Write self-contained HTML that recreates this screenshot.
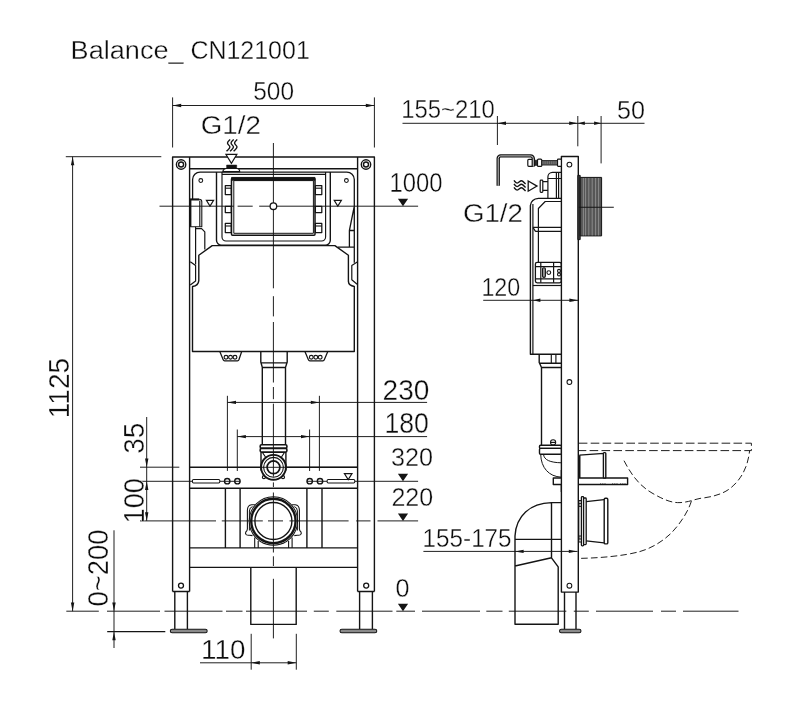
<!DOCTYPE html>
<html lang="en"><head><meta charset="utf-8"><title>Balance_ CN121001</title>
<style>
html,body{margin:0;padding:0;background:#fff;}
body{width:800px;height:712px;overflow:hidden;}
svg{display:block;}
svg *{vector-effect:none;}
.g line,.g path,.g rect,.g circle,.g polyline{stroke:#141414;fill:none;stroke-width:1.4;stroke-linecap:butt;stroke-linejoin:round;}
.g .t{stroke-width:0.95;}
.g .m{stroke-width:1.15;}
.g .k{stroke-width:2;}
.g polygon.f{fill:#141414;stroke:none;}
.g polygon.o{fill:#fff;stroke:#141414;stroke-width:1.15;}
.g .w{fill:#fff;}
.g .gray{fill:#8a8a8a;}
text{font-family:"Liberation Sans",sans-serif;fill:#0c0c0c;stroke:#fff;stroke-width:0.36px;paint-order:fill stroke;}
</style></head><body>
<svg width="800" height="712" viewBox="0 0 800 712">
<rect x="0" y="0" width="800" height="712" fill="#fff"/>
<g class="g" style="opacity:0.999">
<!-- front view: dimension lines -->
<line x1="172.6" y1="97.4" x2="172.6" y2="147.5" class="t"/>
<line x1="374.4" y1="97.4" x2="374.4" y2="147.5" class="t"/>
<line x1="172.6" y1="105.5" x2="374.4" y2="105.5" class="t"/>
<polygon class="f" points="172.6,105.5 181.2,103.8 181.2,107.2"/>
<polygon class="f" points="374.4,105.5 365.8,103.8 365.8,107.2"/>
<line x1="65.8" y1="156.7" x2="161.3" y2="156.7" class="t"/>
<line x1="72.6" y1="156.7" x2="72.6" y2="611.2" class="t"/>
<polygon class="f" points="72.6,156.7 70.9,165.3 74.3,165.3"/>
<polygon class="f" points="72.6,611.2 70.9,602.6 74.3,602.6"/>
<line x1="146.7" y1="417" x2="146.7" y2="520.9" class="t"/>
<line x1="140" y1="467.2" x2="179.3" y2="467.2" class="t"/>
<polygon class="f" points="146.7,467.2 145.0,458.6 148.4,458.6"/>
<polygon class="f" points="146.7,481.3 145.0,489.9 148.4,489.9"/>
<polygon class="f" points="146.7,520.9 145.0,512.3 148.4,512.3"/>
<line x1="114" y1="530.3" x2="114" y2="648" class="t"/>
<polygon class="f" points="114,611.2 112.3,602.6 115.7,602.6"/>
<polygon class="f" points="114,631.7 112.3,640.3 115.7,640.3"/>
<line x1="107.2" y1="631.7" x2="165.3" y2="631.7" style="stroke-width:1.3"/>
<line x1="227.4" y1="395.8" x2="227.4" y2="470.9" class="t"/>
<line x1="319.4" y1="395.8" x2="319.4" y2="470.9" class="t"/>
<line x1="227.4" y1="402.4" x2="427.1" y2="402.4" class="t"/>
<polygon class="f" points="227.4,402.4 236.0,400.7 236.0,404.1"/>
<polygon class="f" points="319.4,402.4 310.8,400.7 310.8,404.1"/>
<line x1="237.3" y1="429.5" x2="237.3" y2="471" class="t"/>
<line x1="309.6" y1="429.5" x2="309.6" y2="471" class="t"/>
<line x1="237.3" y1="436.6" x2="427.1" y2="436.6" class="t"/>
<polygon class="f" points="237.3,436.6 245.9,434.9 245.9,438.3"/>
<polygon class="f" points="309.6,436.6 301.0,434.9 301.0,438.3"/>
<line x1="251.2" y1="633.8" x2="251.2" y2="669.7" class="t"/>
<line x1="296.3" y1="633.8" x2="296.3" y2="669.7" class="t"/>
<line x1="200" y1="662.8" x2="296.3" y2="662.8" class="t"/>
<polygon class="f" points="251.2,662.8 259.8,661.1 259.8,664.5"/>
<polygon class="f" points="296.3,662.8 287.7,661.1 287.7,664.5"/>
<!-- front view: frame -->
<path d="M172.6 591.5V157H374.4V591.5 M189.6 591.5V157 M357.6 157V591.5 M189.6 168.8H357.6 M172.6 591.5H189.6 M357.6 591.5H374.4"/>
<circle cx="181.1" cy="164.5" r="4.7"/>
<circle cx="181.1" cy="164.5" r="2.5"/>
<circle cx="366" cy="164.5" r="4.7"/>
<circle cx="366" cy="164.5" r="2.5"/>
<circle cx="181" cy="585.6" r="2.5" style="stroke-width:1.3"/>
<circle cx="366.2" cy="585.6" r="2.5" style="stroke-width:1.3"/>
<path d="M174.8 591.5V629 M187.4 591.5V629 M359.6 591.5V629 M372.4 591.5V629"/>
<rect x="170.3" y="629.2" width="36.9" height="3.6" rx="1.8" style="stroke-width:1.05" class="gray"/>
<rect x="340" y="629.2" width="36.8" height="3.6" rx="1.8" style="stroke-width:1.05" class="gray"/>
<path d="M189.6 467.3H357.6 M189.6 488.3H357.6 M189.6 547.9H357.6 M189.6 567.4H357.6"/>
<path d="M225.4 488.3V547.9 M240.1 488.3V547.9 M306.9 488.3V547.9 M322 488.3V547.9"/>
<rect x="192.4" y="479.4" width="27.4" height="3.5" rx="1.2" style="stroke-width:1.05"/>
<rect x="327.1" y="479.5" width="27.7" height="3.5" rx="1.2" style="stroke-width:1.05"/>
<polygon class="o" points="344.4,473.6 352.0,473.6 348.2,479.6"/>
<circle cx="227.2" cy="481.2" r="2.7"/>
<circle cx="237.4" cy="481.2" r="2.7"/>
<circle cx="309.7" cy="481.2" r="2.7"/>
<circle cx="320" cy="481.2" r="2.7"/>
<path d="M250.8 567.4V624.4H296.2V567.4"/>
<!-- front view: cistern -->
<path d="M192.6 199V179.6A7.5 7.5 0 0 1 200.1 172.1H346.8A7.5 7.5 0 0 1 354.3 179.6V262.8 M354.3 206.2L349.4 230.5H354.3 M349.4 230.5V247.2 M337.8 247.2H354.3" style="stroke-width:1.3"/>
<path d="M190.2 226.8V199.2H199.2A2.6 2.6 0 0 1 201.8 201.8V226.8H190.3" style="stroke-width:1.1" class="w"/>
<path d="M190.4 226.8V199.5H199" class="k"/>
<line x1="199.8" y1="200.5" x2="199.8" y2="226.8" class="m"/>
<path d="M195.6 226.8V264.6 M195.6 228.6H201.6L204.8 231.8V249.5" style="stroke-width:1.2"/>
<path d="M212.2 245.6H334.9L348.4 255.3V281.4Q348.6 285.6 354.3 286.5V351.5H192.5V286.5Q198.4 285.6 198.8 280.6V255.3Z"/>
<path d="M190.3 261.8L195.6 265.6V281L190.3 285 M357.6 261.8L351.8 265.6V279.7L357.1 284.3" style="stroke-width:1.2"/>
<circle cx="200.8" cy="180.5" r="1.9" style="stroke-width:1.05"/>
<circle cx="346.4" cy="180.5" r="1.9" style="stroke-width:1.05"/>
<polygon class="o" points="206.4,200.4 213.6,200.4 210,206.1"/>
<polygon class="o" points="334.2,200.4 341.4,200.4 337.8,206.1"/>
<path d="M216.5 172V240.3A5 5 0 0 0 221.5 245.3H325.3A5 5 0 0 0 330.3 240.3V172"/>
<path d="M222 172V237A4 4 0 0 0 226 241H321.6A4 4 0 0 0 325.6 237V172" class="m"/>
<line x1="222" y1="174.4" x2="325.6" y2="174.4" class="m"/>
<rect x="231.5" y="178" width="83.5" height="57.2" rx="1" style="stroke-width:1.5"/>
<rect x="231.5" y="177.4" width="83.5" height="3.0" style="stroke-width:0.6;fill:#141414"/>
<rect x="233.8" y="180.6" width="79.6" height="52.7" style="stroke-width:1.0"/>
<rect x="225.3" y="185.6" width="6.0" height="9.0" style="stroke-width:1.25"/>
<rect x="315.4" y="185.6" width="6.4" height="9.0" style="stroke-width:1.25"/>
<line x1="225.3" y1="188.2" x2="231.3" y2="188.2" style="stroke-width:1.1"/>
<line x1="315.4" y1="188.2" x2="321.8" y2="188.2" style="stroke-width:1.1"/>
<rect x="225.3" y="206.4" width="6.0" height="6.2" style="stroke-width:1.25"/>
<rect x="315.4" y="206.4" width="6.4" height="6.2" style="stroke-width:1.25"/>
<rect x="225.3" y="223.4" width="6.0" height="9.2" style="stroke-width:1.25"/>
<rect x="315.4" y="223.4" width="6.4" height="9.2" style="stroke-width:1.25"/>
<line x1="225.3" y1="226.0" x2="231.3" y2="226.0" style="stroke-width:1.1"/>
<line x1="315.4" y1="226.0" x2="321.8" y2="226.0" style="stroke-width:1.1"/>
<circle cx="273.4" cy="206.2" r="3.3" style="stroke-width:1.3;fill:#fff"/>
<path d="M230.2 139.6c-1.2 1.1 -2.7 1.9 -2.7 3.3c0 1.8 2.4 2.6 2.4 4.2c0 1.6 -1.9 2.6 -3.4 4.2" style="stroke-width:1.4"/>
<path d="M233.75 139.6c-1.2 1.1 -2.7 1.9 -2.7 3.3c0 1.8 2.4 2.6 2.4 4.2c0 1.6 -1.9 2.6 -3.4 4.2" style="stroke-width:1.4"/>
<path d="M237.3 139.6c-1.2 1.1 -2.7 1.9 -2.7 3.3c0 1.8 2.4 2.6 2.4 4.2c0 1.6 -1.9 2.6 -3.4 4.2" style="stroke-width:1.4"/>
<polygon class="o" points="225.9,154.4 236.9,154.4 231.4,163.4"/>
<rect x="226.6" y="165" width="10.1" height="3.4" style="stroke-width:0.5;fill:#141414"/>
<path d="M222.7 171.6Q223.5 168.6 226 168.4H237.3Q239.5 168.6 239.8 171.6Z" style="stroke-width:1.05" class="w"/>
<path d="M219.8 351.5L223.2 359.8Q223.6 360.8 224.6 360.8H237.5Q238.5 360.8 238.9 359.8L241.7 351.5" style="stroke-width:1.25"/>
<circle cx="226" cy="357.2" r="1.9" style="stroke-width:1.15"/>
<circle cx="230.5" cy="357.2" r="1.9" style="stroke-width:1.15"/>
<circle cx="235" cy="357.2" r="1.9" style="stroke-width:1.15"/>
<path d="M304.9 351.5L308.4 359.8Q308.79999999999995 360.8 309.79999999999995 360.8H322.90000000000003Q323.90000000000003 360.8 324.3 359.8L327.8 351.5" style="stroke-width:1.25"/>
<circle cx="311.3" cy="357.2" r="1.9" style="stroke-width:1.15"/>
<circle cx="315.8" cy="357.2" r="1.9" style="stroke-width:1.15"/>
<circle cx="320.2" cy="357.2" r="1.9" style="stroke-width:1.15"/>
<path d="M260.8 351.5V362L262.3 367.4V444.6 M287.2 351.5V362L285.5 367.4V444.6 M262.3 367.5H285.5 M260.8 362.9H287.2"/>
<rect x="260.2" y="444.7" width="26.7" height="3.7" rx="1.3" style="stroke-width:1.6" class="w"/>
<rect x="260.2" y="448.4" width="26.7" height="3.7" rx="1.3" style="stroke-width:1.6" class="w"/>
<path d="M261 452.2V470.5 M285.9 452.2V470.5"/>
<path d="M262.3 452.2L265.5 457 M284.6 452.2L281.5 457" class="m"/>
<circle cx="263.9" cy="477.2" r="1.5" style="stroke-width:1.2"/>
<circle cx="283" cy="477.2" r="1.5" style="stroke-width:1.2"/>
<circle cx="273.5" cy="467.3" r="12.4" style="stroke-width:1.9;fill:#fff"/>
<circle cx="273.5" cy="467.3" r="9.9" style="stroke-width:1.1"/>
<circle cx="273.5" cy="467.3" r="6.4" style="stroke-width:1.7"/>
<line x1="260.5" y1="467.3" x2="357.6" y2="467.3" class="t"/>
<path d="M255 504.8H251.5Q247.6 505.2 247.4 510V529Q247.2 531 245.8 532Q245 533.5 246.2 534.6Q247.5 535.6 249.5 535.2L252.5 535.6" style="stroke-width:1.1"/>
<path d="M252.5 506.6Q249.6 507.2 249.4 511V530.5" style="stroke-width:1"/>
<path d="M254.7 537.5V547.9 M258.2 541V547.9" style="stroke-width:1.1"/>
<path d="M291.8 504.8H295.3Q299.2 505.2 299.4 510V529Q299.6 531 301.0 532Q301.8 533.5 300.6 534.6Q299.3 535.6 297.3 535.2L294.3 535.6" style="stroke-width:1.1"/>
<path d="M294.3 506.6Q297.2 507.2 297.4 511V530.5" style="stroke-width:1"/>
<path d="M292.1 537.5V547.9 M288.6 541V547.9" style="stroke-width:1.1"/>
<circle cx="273.4" cy="521" r="24.2" style="stroke-width:1.05;fill:#fff"/>
<circle cx="273.4" cy="521" r="22.2" style="stroke-width:2.4"/>
<circle cx="273.4" cy="521" r="18.5" style="stroke-width:1.4"/>
<!-- front view: centre and level lines -->
<path d="M159.5 206.2H233.8 M237.6 206.2H252.7 M259.2 206.2H270.2 M276.7 206.2H418.1" class="t"/>
<polygon class="f" points="397.9,198.8 408.1,198.8 403,206.2"/>
<path d="M140 481.3H192.4 M219.8 481.3H240.2 M306.9 481.3H327.1 M354.8 481.3H418.1" class="t"/>
<polygon class="f" points="397.9,473.8 408.1,473.8 403,481.2"/>
<path d="M140 520.9H216 M221.8 520.9H262.8 M268 520.9H283 M289.5 520.9H348.6 M356.2 520.9H370.5 M377.5 520.9H418.1" class="t"/>
<polygon class="f" points="397.9,513.5 408.1,513.5 403,520.9"/>
<path d="M66.3 611.2H98.8 M107 611.2H160 M164.5 611.2H222.5 M226 611.2H242.5 M246 611.2H307 M313.8 611.2H328.8 M336.3 611.2H392.5 M396.3 611.2H415 M422 611.2H480 M486.3 611.2H502.5 M508.8 611.2H566.3 M573.8 611.2H588.8 M596 611.2H653 M661 611.2H676 M683 611.2H738.5" class="t"/>
<polygon class="f" points="397.9,603.8 408.1,603.8 403,611.2"/>
<path d="M273.4 143V203 M273.4 209.4V288.3 M273.4 296.2V316.4 M273.4 322V382.5 M273.4 387V399.2 M273.4 403.7V476.7 M273.4 482.4V487 M273.4 492.5V552.5 M273.4 556.3V566 M273.4 578.8V638.4" class="t"/>
<!-- front view: text -->
<text y="59.3" font-size="26.6"><tspan x="70.6" textLength="113" lengthAdjust="spacingAndGlyphs">Balance_</tspan> <tspan x="190.4" textLength="119.4" lengthAdjust="spacingAndGlyphs">CN121001</tspan></text>
<text x="253.2" y="99.7" font-size="26.0" textLength="40.8" lengthAdjust="spacingAndGlyphs">500</text>
<text x="200.7" y="134.3" font-size="26.0" textLength="60.2" lengthAdjust="spacingAndGlyphs">G1/2</text>
<text x="389.5" y="191.7" font-size="27.0" textLength="52.9" lengthAdjust="spacingAndGlyphs">1000</text>
<text x="382.6" y="399.5" font-size="30.0" textLength="46.8" lengthAdjust="spacingAndGlyphs">230</text>
<text x="384.4" y="432.9" font-size="29.2" textLength="44.4" lengthAdjust="spacingAndGlyphs">180</text>
<text x="391.0" y="466.1" font-size="26.2" textLength="42.0" lengthAdjust="spacingAndGlyphs">320</text>
<text x="391.4" y="505.9" font-size="26.0" textLength="41.8" lengthAdjust="spacingAndGlyphs">220</text>
<text x="395.4" y="596.6" font-size="25.8" textLength="14.0" lengthAdjust="spacingAndGlyphs">0</text>
<text x="201.0" y="659.4" font-size="28.0" textLength="44.4" lengthAdjust="spacingAndGlyphs">110</text>
<text x="68.8" y="418.2" font-size="29.8" textLength="60.4" lengthAdjust="spacingAndGlyphs" transform="rotate(-90 68.8 418.2)">1125</text>
<text x="143.8" y="453.7" font-size="29.8" textLength="31" lengthAdjust="spacingAndGlyphs" transform="rotate(-90 143.8 453.7)">35</text>
<text x="143.8" y="523.2" font-size="29.8" textLength="44.8" lengthAdjust="spacingAndGlyphs" transform="rotate(-90 143.8 523.2)">100</text>
<text x="107.7" y="606.4" font-size="30" textLength="77" lengthAdjust="spacingAndGlyphs" transform="rotate(-90 107.7 606.4)">0~200</text>
<!-- side view: dimensions -->
<line x1="402.5" y1="123.3" x2="644.5" y2="123.3" class="t"/>
<line x1="497.4" y1="116" x2="497.4" y2="145" class="t"/>
<line x1="577.8" y1="116" x2="577.8" y2="146.3" class="t"/>
<line x1="601.1" y1="116" x2="601.1" y2="163.4" class="t"/>
<polygon class="f" points="497.4,123.3 506.0,121.6 506.0,125.0"/>
<polygon class="f" points="577.8,123.3 569.2,121.6 569.2,125.0"/>
<polygon class="f" points="577.8,123.3 584.8,121.6 584.8,125.0"/>
<polygon class="f" points="601.1,123.3 594.1,121.6 594.1,125.0"/>
<!-- side view: toilet bowl (dashed) -->
<path d="M578.8 443.2H751.4V450.6H578.8" class="t" stroke-dasharray="8.6 3.3"/>
<path d="M624 460.7C632 476 640 486 652 493C664 500 672 503 680 502.6C690 502 694 499.4 700 498.4C712 497 722 494.5 730 488.5C742 479 748 466 749.6 450.6" class="t" stroke-dasharray="6.6 3.2"/>
<path d="M691.4 501.1C688 512 680 524 671.2 533.1C662 542 651 548.3 640 551.5C624 556 600 558 578.8 558.4" class="t" stroke-dasharray="6.6 3.2"/>
<!-- side view: frame post -->
<path d="M561.4 592.1V156.5H578.3V592.1Z" class="w"/>
<circle cx="569.4" cy="164.6" r="2.4" style="stroke-width:1.05"/>
<circle cx="569.4" cy="382" r="2.4" style="stroke-width:1.05"/>
<circle cx="569.4" cy="585.7" r="2.4" style="stroke-width:1.05"/>
<path d="M564.5 592.1V629.2 M576 592.1V629.2"/>
<rect x="559.5" y="629.2" width="21.5" height="3.6" rx="1.8" style="stroke-width:1.05" class="gray"/>
<!-- side view: bracket, bolt, valve -->
<rect x="527.8" y="159.3" width="5.6" height="7.0" rx="1" style="stroke-width:1.2" class="w"/>
<path d="M498.2 185.8V158.4A2.5 2.5 0 0 1 500.7 155.9H530.6A2.7 2.7 0 0 1 533.3 158.6V166.4" style="stroke-width:3.4"/>
<path d="M498.2 185.8V158.4A2.5 2.5 0 0 1 500.7 155.9H530.6A2.7 2.7 0 0 1 533.3 158.6V166.4" style="stroke-width:1.0;stroke:#c9c9c9"/>
<rect x="535" y="160.2" width="2.6" height="5.2" style="stroke-width:0.6;fill:#333"/>
<rect x="537.5" y="159.2" width="4.3" height="7.2" rx="1" style="stroke-width:1.2" class="w"/>
<rect x="541.8" y="160.6" width="15.8" height="4.4" style="stroke-width:0.9;fill:#777"/>
<line x1="544" y1="160.8" x2="544" y2="164.8" style="stroke-width:0.7;stroke:#444"/>
<line x1="546.2" y1="160.8" x2="546.2" y2="164.8" style="stroke-width:0.7;stroke:#444"/>
<line x1="548.4" y1="160.8" x2="548.4" y2="164.8" style="stroke-width:0.7;stroke:#444"/>
<line x1="550.6" y1="160.8" x2="550.6" y2="164.8" style="stroke-width:0.7;stroke:#444"/>
<line x1="552.8" y1="160.8" x2="552.8" y2="164.8" style="stroke-width:0.7;stroke:#444"/>
<line x1="555" y1="160.8" x2="555" y2="164.8" style="stroke-width:0.7;stroke:#444"/>
<rect x="557.5" y="159.2" width="3.9" height="7.2" rx="0.8" style="stroke-width:1.2" class="w"/>
<path d="M513.9 180.4c1.1 1.2 1.9 2.7 3.3 2.7c1.8 0 2.6 -2.4 4.2 -2.4c1.6 0 2.6 1.9 4.2 3.4" style="stroke-width:1.4"/>
<path d="M513.9 183.9c1.1 1.2 1.9 2.7 3.3 2.7c1.8 0 2.6 -2.4 4.2 -2.4c1.6 0 2.6 1.9 4.2 3.4" style="stroke-width:1.4"/>
<path d="M513.9 187.4c1.1 1.2 1.9 2.7 3.3 2.7c1.8 0 2.6 -2.4 4.2 -2.4c1.6 0 2.6 1.9 4.2 3.4" style="stroke-width:1.4"/>
<polygon class="o" style="stroke-width:1.3" points="528.2,181 537,186.1 528.2,191.2"/>
<rect x="540.2" y="180.2" width="2.6" height="12.2" rx="0.8" style="stroke-width:1.2" class="w"/>
<path d="M542.8 181.6H547.9 M542.8 190.4H547.9" style="stroke-width:1.3"/>
<path d="M547.9 198.3V177A4.6 4.6 0 0 1 552.5 172.4H561.4 M547.9 178.5H561.4 M556.4 172.4V198.3 M558.6 172.4V198.3" style="stroke-width:1.2"/>
<!-- side view: cistern -->
<path d="M561.3 198.4H538.5Q531.2 199 530.4 205.5V354.2H561.3"/>
<path d="M532.9 204V354.2" style="stroke-width:1.2"/>
<path d="M561.3 201.5H545.2L538.4 208.5V262.3" style="stroke-width:1.2"/>
<path d="M532.9 227.4H561.3 M535.5 231.4H561.3 M532.9 227.4L535.5 231.4" style="stroke-width:1.2"/>
<rect x="535.4" y="262.3" width="25.9" height="20.5" rx="1.8" style="stroke-width:1.3"/>
<path d="M540.8 262.3V282.8 M553.6 262.3V282.8 M535.4 266.6H561.3 M535.4 278.9H561.3" style="stroke-width:1.2"/>
<rect x="542.5" y="267.8" width="2.9" height="9.6" rx="1.3" style="stroke-width:1.1;fill:#999"/>
<circle cx="548.8" cy="272.6" r="1.9" style="stroke-width:1.1"/>
<circle cx="559" cy="270.9" r="1.5" style="stroke-width:1.1"/>
<circle cx="559" cy="274.4" r="1.5" style="stroke-width:1.1"/>
<line x1="532.9" y1="285.5" x2="561.3" y2="285.5" style="stroke-width:1.2"/>
<path d="M539.2 354.2V362.5L541.5 367.5V445.2 M541.5 367.5H561.3 M539.2 363.2H561.3"/>
<path d="M551.3 354.2V363.2 M555.9 354.2V363.2" class="m"/>
<circle cx="553.1" cy="442.4" r="2.6" style="stroke-width:1.05;fill:#fff"/>
<line x1="550.6" y1="442.4" x2="555.6" y2="442.4" class="m"/>
<rect x="539.5" y="445.2" width="21.8" height="3.2" rx="1" class="w"/>
<rect x="539.5" y="448.4" width="21.8" height="5.8" rx="1" class="w"/>
<path d="M540.7 454.2C541 468 549 476.5 561.3 477.2 M543.5 454.2C544 460 550 462.5 561.3 462.8" style="stroke-width:1"/>
<rect x="553.3" y="478" width="74.3" height="6.5" class="w"/>
<path d="M600 484H606 M612 484H618 M620 484H626" style="stroke-width:0.95" stroke-dasharray="1.2 1"/>
<rect x="561.4" y="470" width="16.9" height="22" style="stroke-width:0.01;fill:#fff"/>
<path d="M561.4 470V492 M578.3 470V492"/>
<path d="M579.4 455.2L604 453.4V478" style="stroke-width:1.3"/>
<line x1="579.6" y1="455.2" x2="579.6" y2="478" style="stroke-width:1.8"/>
<rect x="603.4" y="452.6" width="2.4" height="25.4" rx="0.8" style="stroke-width:1.4" class="w"/>
<rect x="577.8" y="175.4" width="2.4" height="64.2" style="stroke-width:0.95;fill:#3a3a3a"/>
<rect x="580.2" y="177.4" width="21.4" height="58.5" style="stroke-width:1;fill:#565656"/>
<line x1="583.4" y1="178" x2="583.4" y2="235.4" style="stroke-width:0.95;stroke:#8e8e8e"/>
<line x1="585.6" y1="178" x2="585.6" y2="235.4" style="stroke-width:0.95;stroke:#8e8e8e"/>
<line x1="588.8" y1="178" x2="588.8" y2="235.4" style="stroke-width:0.95;stroke:#8e8e8e"/>
<line x1="592.2" y1="178" x2="592.2" y2="235.4" style="stroke-width:0.95;stroke:#8e8e8e"/>
<line x1="595.6" y1="178" x2="595.6" y2="235.4" style="stroke-width:0.95;stroke:#8e8e8e"/>
<line x1="598.6" y1="178" x2="598.6" y2="235.4" style="stroke-width:0.95;stroke:#8e8e8e"/>
<line x1="578.8" y1="207.2" x2="613.8" y2="207.2" style="stroke-width:1.1"/>
<rect x="578.8" y="500.6" width="2.8" height="41.4" style="stroke-width:1.05"/>
<rect x="578.8" y="503.4" width="2.6" height="3.0" style="stroke-width:0.95"/>
<rect x="578.8" y="536" width="2.6" height="3" style="stroke-width:0.95"/>
<rect x="581.4" y="496.7" width="2.2" height="49.1" rx="0.8" style="stroke-width:1.3" class="w"/>
<rect x="583.6" y="498" width="2.6" height="46.6" rx="0.8" style="stroke-width:1.3" class="w"/>
<path d="M586.2 501.6L604 499.6 M586.2 540.8L604 542.8" style="stroke-width:1.3"/>
<rect x="604.2" y="498.3" width="3.6" height="45.6" rx="1.2" style="stroke-width:1.4" class="w"/>
<path d="M551.5 502.6H561.3 M551.5 502.6C530 503 516 516 515 536V624.3H558.2V566.8L551.5 557.8V502.6 M515 539.4H561.3 M515 566L551.5 557.8"/>
<!-- side view: dims over objects -->
<line x1="483.2" y1="300.3" x2="578.3" y2="300.3" class="t"/>
<polygon class="f" points="533,300.3 540.4,298.6 540.4,302.0"/>
<polygon class="f" points="578,300.3 569.4,298.6 569.4,302.0"/>
<line x1="423.4" y1="551.4" x2="577.6" y2="551.4" class="t"/>
<polygon class="f" points="515,551.4 523.6,549.7 523.6,553.1"/>
<polygon class="f" points="577.4,551.4 568.8,549.7 568.8,553.1"/>
<!-- side view: text -->
<text x="401.2" y="117.8" font-size="26.0" textLength="93.6" lengthAdjust="spacingAndGlyphs">155~210</text>
<text x="617.0" y="118.8" font-size="26.5" textLength="28.0" lengthAdjust="spacingAndGlyphs">50</text>
<text x="462.9" y="221.9" font-size="26.0" textLength="60.0" lengthAdjust="spacingAndGlyphs">G1/2</text>
<text x="481.4" y="295.5" font-size="25.4" textLength="38.8" lengthAdjust="spacingAndGlyphs">120</text>
<text x="422.6" y="546.5" font-size="26.0" textLength="89.0" lengthAdjust="spacingAndGlyphs">155-175</text>
</g>
</svg>
</body></html>
